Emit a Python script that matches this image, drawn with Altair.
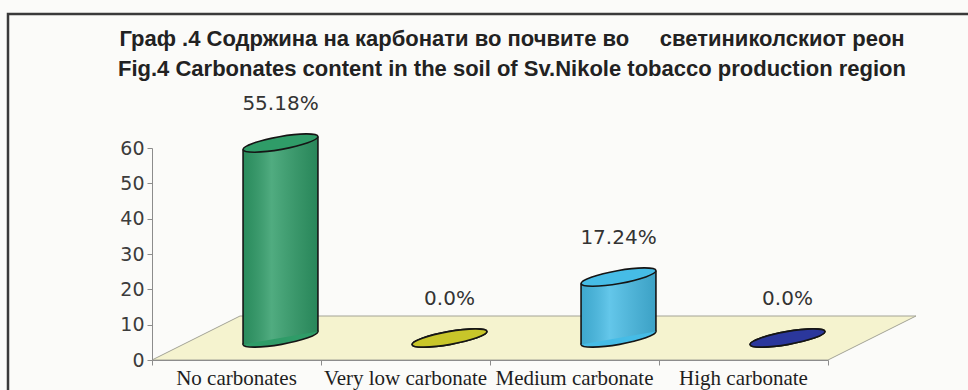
import altair as alt
import pandas as pd

# ---- data ----
categories = ["No carbonates", "Very low carbonate", "Medium carbonate", "High carbonate"]
values = [55.18, 0.0, 17.24, 0.0]
value_labels = ["55.18%", "0.0%", "17.24%", "0.0%"]
colors = ["#2f9c68", "#c8c62a", "#46bce6", "#2b379c"]
y_ticks = [0, 10, 20, 30, 40, 50, 60]
title_lines = [
    "Граф .4 Содржина на карбонати во почвите во\u00a0\u00a0\u00a0\u00a0 светиниколскиот реон",
    "Fig.4 Carbonates content in the soil of Sv.Nikole tobacco production region",
]

# ---- geometry / style constants ----
W, H = 676, 212                 # plot area in px
PX_X = W / 4.0                  # px per category unit
PX_Y = H / 60.0                 # px per value unit
DEPTH_X, DEPTH_Y = 88, 44       # 3-D depth of the floor, px
CX = (DEPTH_X / 2) / PX_X       # cylinder centre shift (category units)
CY = (DEPTH_Y / 2) / PX_Y       # cylinder centre shift (value units)
R = 38                          # cylinder radius, px
EX = 0.98525 * R / PX_X         # half-width of body (category units)
EY = 0.16855 * R / PX_Y         # tilt of body ends (value units)
ELLIPSE = ("M -1 0 C -1 -0.0939 -0.5523 -0.17 0 -0.17 C 0.5523 -0.17 1 -0.0939 1 0 "
           "C 1 0.0939 0.5523 0.17 0 0.17 C -0.5523 0.17 -1 0.0939 -1 0 Z")
SYM_SIZE = (2 * R) ** 2

df = pd.DataFrame({
    "idx": list(range(len(categories))),
    "category": categories,
    "value": values,
    "label": value_labels,
})
df["cx"] = df["idx"] + CX
df["base"] = CY
df["top"] = CY + df["value"]

# body outline points (left / right of each cylinder)
rows = []
for _, r in df.iterrows():
    rows.append({"category": r["category"], "side": 0, "x": r["cx"] - EX,
                 "y": r["base"] - EY, "y2": r["top"] - EY, "value": r["value"]})
    rows.append({"category": r["category"], "side": 1, "x": r["cx"] + EX,
                 "y": r["base"] + EY, "y2": r["top"] + EY, "value": r["value"]})
body = pd.DataFrame(rows)
body = body[body["value"] > 0]

floor = pd.DataFrame({
    "y": [0, DEPTH_Y / PX_Y],
    "x": [-0.5, -0.5 + DEPTH_X / PX_X],
    "x2": [3.5, 3.5 + DEPTH_X / PX_X],
})

xscale = alt.Scale(domain=[-0.5, 3.5], nice=False, zero=False)
yscale = alt.Scale(domain=[0, 60], nice=False, zero=True)
color_scale = alt.Scale(domain=categories, range=colors)

y_axis = alt.Axis(values=y_ticks, title=None, grid=False, tickSize=5, zindex=1,
                  labelOverlap=False, labelFontSize=19, labelFont="DejaVu Sans",
                  labelColor="#3c3c3c", labelPadding=3,
                  domainColor="#8c8c8c", tickColor="#8c8c8c")
x_axis = alt.Axis(values=[-0.5, 0.5, 1.5, 2.5, 3.5], labels=False, title=None, zindex=1,
                  grid=False, tickSize=5, domainColor="#8c8c8c", tickColor="#8c8c8c")


def X(field):
    return alt.X(field, scale=xscale, axis=x_axis)


def Y(field):
    return alt.Y(field, scale=yscale, axis=y_axis, stack=None)


frame = alt.Chart(pd.DataFrame({"k": [0]})).mark_rect(
    fill=None, stroke="#3a3a3a", strokeWidth=2.5
).encode(
    x=alt.value(8 - 152), x2=alt.value(W + 200),
    y=alt.value(14 - 148), y2=alt.value(H + 100),
)

floor_layer = alt.Chart(floor).mark_area(
    orient="horizontal", fill="#f5f3cf", stroke="#a3a396", strokeWidth=1
).encode(y=Y("y:Q"), x=X("x:Q"), x2="x2:Q")

bottom_ell = alt.Chart(df).mark_point(
    shape=ELLIPSE, size=SYM_SIZE, angle=350, filled=True, opacity=1,
    stroke="#151515", strokeWidth=1.6
).encode(
    x=X("cx:Q"), y=Y("base:Q"),
    fill=alt.Fill("category:N", scale=color_scale, legend=None),
)

body_layer = alt.Chart(body).mark_area(opacity=1, orient="vertical").encode(
    x=X("x:Q"), y=Y("y:Q"), y2="y2:Q",
    detail="category:N",
    fill=alt.Fill("category:N", scale=color_scale, legend=None),
)

shade = alt.Chart(body).mark_area(
    orient="vertical",
    fill=alt.Gradient(
        gradient="linear", x1=0, x2=1, y1=0, y2=0,
        stops=[
            alt.GradientStop(color="rgba(0,0,0,0.10)", offset=0),
            alt.GradientStop(color="rgba(255,255,255,0.16)", offset=0.38),
            alt.GradientStop(color="rgba(0,0,0,0.14)", offset=1),
        ],
    )
).encode(x=X("x:Q"), y=Y("y:Q"), y2="y2:Q", detail="category:N")

edges = alt.Chart(body).mark_rule(color="#151515", strokeWidth=1.6).encode(
    x=X("x:Q"), y=Y("y:Q"), y2="y2:Q",
)

top_ell = alt.Chart(df).mark_point(
    shape=ELLIPSE, size=SYM_SIZE, angle=350, filled=True, opacity=1,
    stroke="#151515", strokeWidth=1.6
).encode(
    x=X("cx:Q"), y=Y("top:Q"),
    fill=alt.Fill("category:N", scale=color_scale, legend=None),
)

val_text = alt.Chart(df).mark_text(
    font="DejaVu Sans", fontSize=20, color="#333333", dy=-39, baseline="middle"
).encode(x=X("cx:Q"), y=Y("top:Q"), text="label:N")

cat_text = alt.Chart(df).mark_text(
    font="Liberation Serif", fontSize=21, color="#1e1e1e", dy=19, baseline="middle"
).encode(x=X("idx:Q"), y=alt.value(H), text="category:N")

chart = alt.layer(
    frame, floor_layer, bottom_ell, body_layer, shade, edges, top_ell, val_text, cat_text
).properties(
    width=W, height=H,
    title=alt.TitleParams(
        text=title_lines, anchor="middle", frame="group", dx=22, offset=-85,
        baseline="alphabetic", font="Liberation Sans", fontSize=22, fontWeight="bold",
        color="#222222", lineHeight=30, zindex=1,
    ),
    autosize=alt.AutoSizeParams(type="none"),
    padding={"left": 152, "top": 148, "right": 140, "bottom": 30},
    background="#fbfbf9",
).configure_view(stroke=None).configure_axis(labelOverlap=False)

chart.save("out.html", embed_options={"renderer": "svg", "actions": False})
